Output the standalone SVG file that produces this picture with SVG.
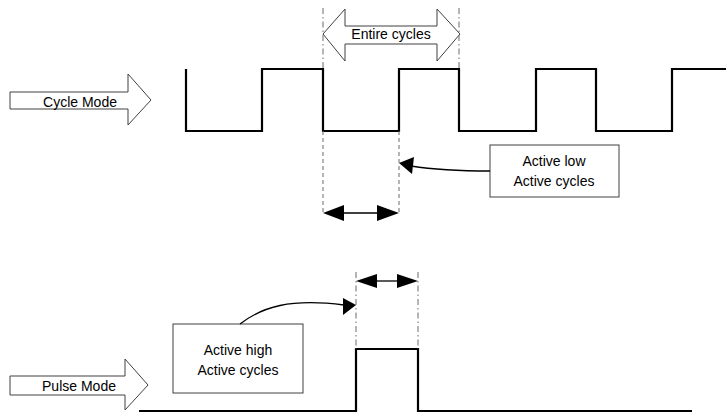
<svg xmlns="http://www.w3.org/2000/svg" width="726" height="414" viewBox="0 0 726 414">
<defs>
<style>
.wave{fill:none;stroke:#000;stroke-width:2.2}
.blk{fill:#fff;stroke:#404040;stroke-width:1}
.box{fill:#fff;stroke:#404040;stroke-width:1}
.dd{stroke:#6a6a6a;stroke-width:1;stroke-dasharray:6 3 1.5 3;fill:none}
.ds{stroke:#6a6a6a;stroke-width:1;stroke-dasharray:4 3;fill:none}
.ln{stroke:#000;stroke-width:1.3;fill:none}
.hd{fill:#000}
text{font-family:"Liberation Sans",Arial,sans-serif;font-size:14px;fill:#000;text-anchor:middle}
</style>
</defs>
<rect width="726" height="414" fill="#fff"/>

<g id="cycle-mode">
<path class="blk" d="M10,92 H128 V74 L151,100 L128,125 V109 H10 Z"/>
<text x="80" y="107">Cycle Mode</text>
</g>

<g id="cycle-wave">
<path class="wave" d="M186,69 V131 H262 V69 H323 V131 H399 V69 H459 V131 H536 V69 H596 V131 H672 V69 H726"/>
</g>

<g id="entire-cycles">
<path class="blk" d="M323,34 L345,9 V26 H437 V9 L460,34 L437,61 V44 H345 V61 Z"/>
<text x="391" y="39">Entire cycles</text>
</g>

<g id="active-low">
<rect class="box" x="490" y="145" width="129" height="52"/>
<text x="554" y="166">Active low</text>
<text x="554" y="186">Active cycles</text>
</g>

<g id="pulse-mode">
<path class="blk" d="M10,376 H125 V359 L148,385 L125,410 V395 H10 Z"/>
<text x="79" y="391">Pulse Mode</text>
</g>

<g id="pulse-wave">
<path class="wave" d="M139,411 H356 V349 H418 V411 H692"/>
</g>

<g id="active-high">
<rect class="box" x="173" y="324" width="130" height="69"/>
<text x="238" y="355">Active high</text>
<text x="238" y="375">Active cycles</text>
</g>

<g id="connectors">
<line class="dd" x1="323" y1="8" x2="323" y2="69"/>
<line class="dd" x1="459" y1="8" x2="459" y2="69"/>
<line class="ds" x1="323" y1="131" x2="323" y2="215"/>
<line class="ds" x1="399" y1="131" x2="399" y2="215"/>
<line class="ln" x1="340" y1="213" x2="382" y2="213"/>
<path class="hd" d="M323,213 L344,205 L344,221 Z"/>
<path class="hd" d="M399,213 L377,205 L377,221 Z"/>
<path class="ln" d="M490,171 C455,171 430,169 411,166"/>
<path class="hd" d="M399,163 L414,157 L412,174 Z"/>
<line class="dd" x1="356" y1="272" x2="356" y2="349"/>
<line class="dd" x1="418" y1="272" x2="418" y2="349"/>
<line class="ln" x1="372" y1="281" x2="402" y2="281"/>
<path class="hd" d="M356,281 L377,274 L377,288 Z"/>
<path class="hd" d="M418,281 L397,274 L397,288 Z"/>
<path class="ln" d="M240,324 C262,307 290,298 344,305"/>
<path class="hd" d="M356,305 L343,298 L343,315 Z"/>
</g>
</svg>
